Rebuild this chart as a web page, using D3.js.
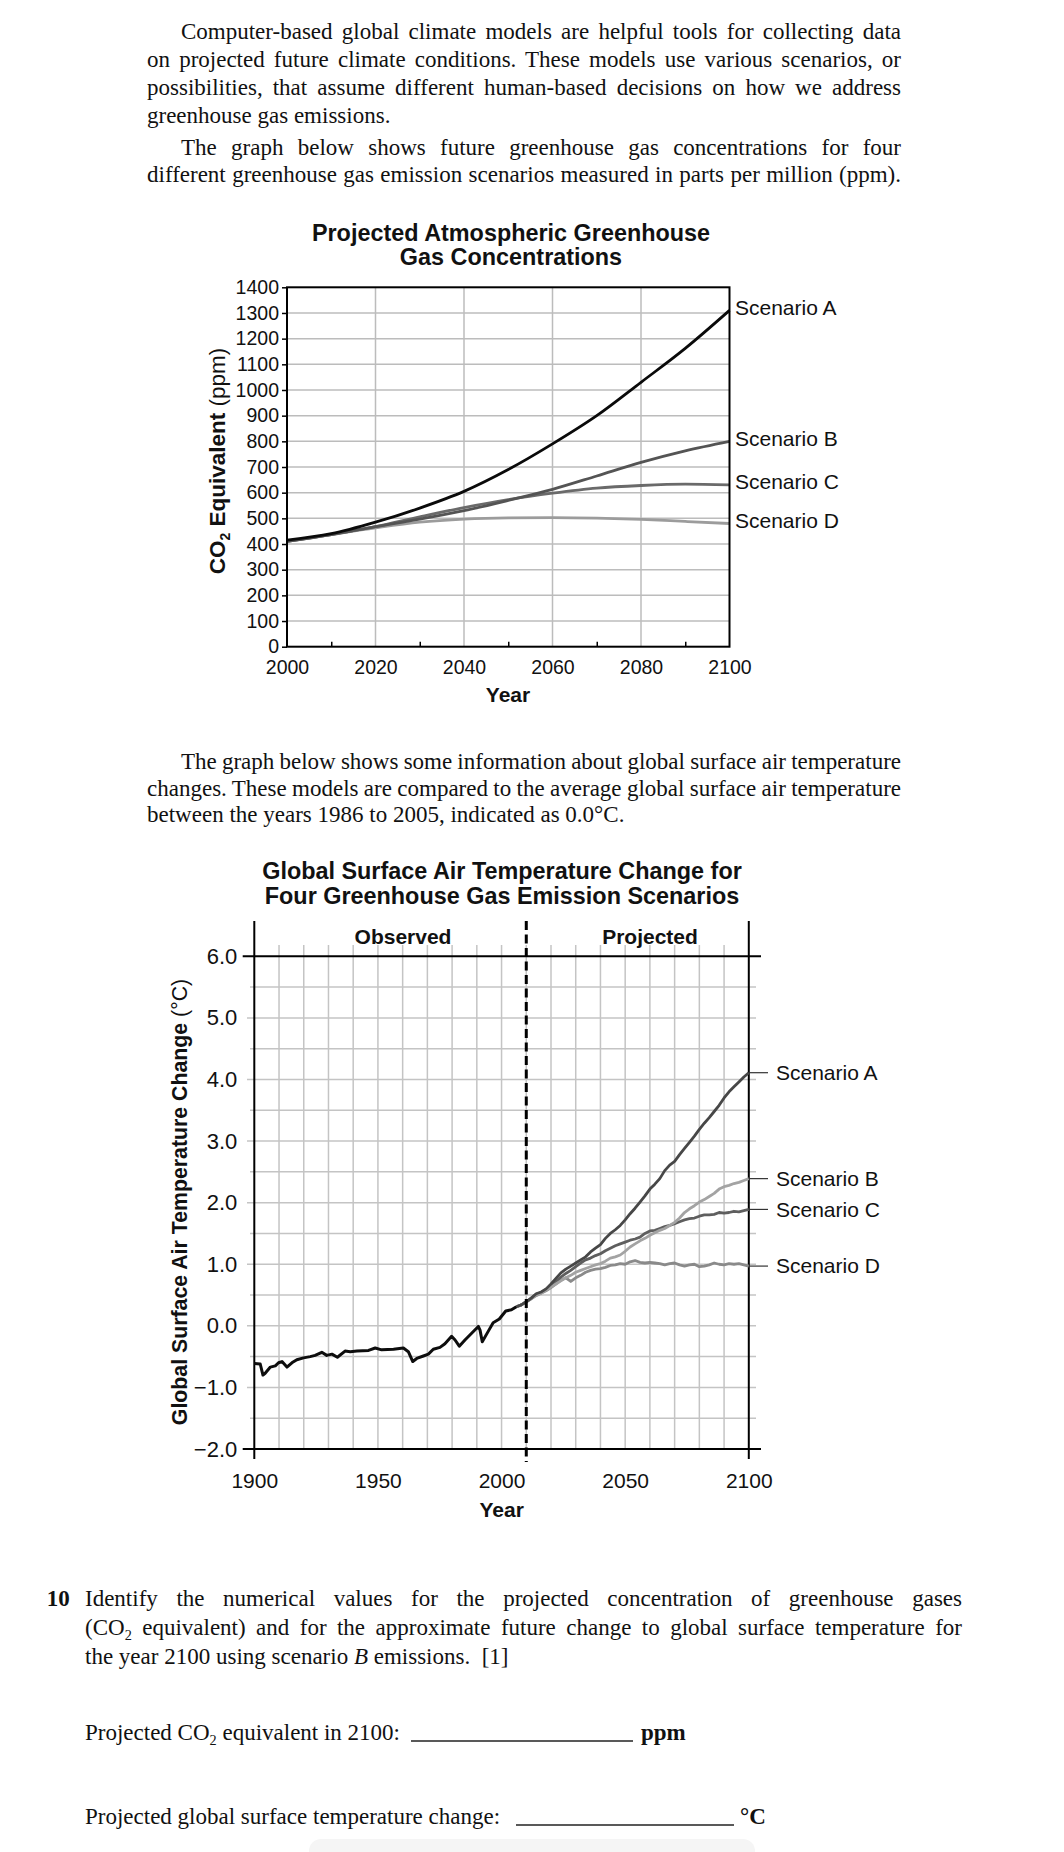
<!DOCTYPE html>
<html><head><meta charset="utf-8">
<script src="https://cdn.jsdelivr.net/npm/d3@7"></script>
<style>
html,body{margin:0;padding:0;background:#fff;}
svg{display:block;}
</style></head><body>
<svg id="page" width="1064" height="1852"></svg>
<script>
// ---------------- DATA ----------------
// Chart 1: projected CO2-equivalent concentration (ppm)
const co2Years = [2000,2010,2020,2030,2040,2050,2060,2070,2080,2090,2100];
const co2A = [415,440,485,540,605,690,790,900,1030,1162,1310];
const co2B = [410,437,468,497,530,570,613,665,718,763,800];
const co2C = [410,437,468,506,542,573,598,618,628,633,630];
const co2D = [410,437,463,485,497,502,503,501,496,488,480];
const co2Names = ["Scenario A","Scenario B","Scenario C","Scenario D"];
const co2YTicks = [0,100,200,300,400,500,600,700,800,900,1000,1100,1200,1300,1400];
const co2XTicks = [2000,2020,2040,2060,2080,2100];
const co2XMinor = [2010,2030,2050,2070,2090];

// Chart 2: global surface air temperature change (deg C)
const obsYears = [1900,1902.4,1903.5,1904.4,1906.5,1908.5,1909.8,1911.2,1913.2,1915.2,1917.2,1919.9,1922.6,1924.6,1927.3,1929.3,1931.4,1933.6,1936.7,1938.8,1941.5,1946.2,1948.9,1951.5,1956.3,1960.3,1962.3,1964.1,1965.7,1968.4,1970.4,1972.4,1975.1,1977.1,1979.8,1981.2,1982.9,1985.2,1987.9,1990.6,1991.3,1992.2,1994.6,1996.6,1999.1,2001.7,2004,2006];
const obsTemp = [-0.61,-0.62,-0.80,-0.77,-0.67,-0.65,-0.60,-0.58,-0.67,-0.60,-0.55,-0.52,-0.50,-0.48,-0.43,-0.48,-0.46,-0.51,-0.41,-0.42,-0.41,-0.40,-0.36,-0.39,-0.38,-0.36,-0.42,-0.58,-0.53,-0.49,-0.46,-0.38,-0.35,-0.29,-0.17,-0.23,-0.33,-0.23,-0.12,-0.01,-0.07,-0.26,-0.09,0.05,0.11,0.24,0.26,0.31];
const projYears = [2006,2008,2010,2012,2014,2016,2018,2020,2022,2024,2026,2028,2030,2032,2034,2036,2038,2040,2042,2044,2046,2048,2050,2052,2054,2056,2058,2060,2062,2064,2066,2068,2070,2072,2074,2076,2078,2080,2082,2084,2086,2088,2090,2092,2094,2096,2098,2100];
const tempA = [0.31,0.34,0.39,0.45,0.52,0.55,0.60,0.68,0.77,0.86,0.92,0.97,1.02,1.07,1.12,1.20,1.26,1.32,1.42,1.50,1.56,1.63,1.72,1.82,1.91,2.01,2.11,2.22,2.30,2.39,2.52,2.61,2.67,2.78,2.88,2.98,3.08,3.19,3.29,3.38,3.48,3.58,3.70,3.80,3.88,3.96,4.04,4.11];
const tempB = [0.31,0.34,0.39,0.44,0.50,0.53,0.58,0.63,0.68,0.73,0.78,0.82,0.87,0.90,0.93,0.96,0.99,1.01,1.05,1.10,1.12,1.15,1.21,1.28,1.33,1.38,1.42,1.47,1.51,1.55,1.58,1.63,1.68,1.75,1.84,1.90,1.95,2.01,2.05,2.10,2.15,2.22,2.26,2.28,2.31,2.33,2.36,2.39];
const tempC = [0.31,0.34,0.39,0.45,0.51,0.54,0.59,0.65,0.72,0.79,0.85,0.90,0.96,1.02,1.07,1.10,1.14,1.17,1.22,1.26,1.30,1.33,1.36,1.39,1.41,1.44,1.50,1.54,1.55,1.58,1.61,1.63,1.66,1.69,1.72,1.74,1.75,1.78,1.80,1.80,1.81,1.84,1.83,1.84,1.86,1.85,1.87,1.89];
const tempD = [0.31,0.34,0.39,0.44,0.49,0.53,0.57,0.62,0.68,0.74,0.78,0.72,0.78,0.82,0.87,0.90,0.92,0.93,0.95,0.98,0.99,1.01,1.00,1.04,1.06,1.03,1.02,1.03,1.02,1.01,0.99,1.01,1.02,0.99,0.97,0.99,1.00,0.96,0.97,0.99,1.02,1.00,0.99,1.01,1.00,1.01,0.99,0.97];
const tempNames = ["Scenario A","Scenario B","Scenario C","Scenario D"];
const tempYTicks = [-2,-1,0,1,2,3,4,5,6];
const tempXTicks = [1900,1950,2000,2050,2100];
const tempVGrid = [1910,1920,1930,1940,1950,1960,1970,1980,1990,2000,2010,2020,2030,2040,2050,2060,2070,2080,2090];
const tempHGrid = [-1.5,-1,-0.5,0,0.5,1,1.5,2,2.5,3,3.5,4,4.5,5,5.5];

// ---------------- HELPERS ----------------
const SERIF = '"Liberation Serif","Times New Roman",serif';
const SANS = '"Liberation Sans",Arial,Helvetica,sans-serif';
const INK = "#111";
const svg = d3.select("#page");

function richText(parent, x, y, segs, o) {
  const t = parent.append("text").attr("x", x).attr("y", y)
    .style("font-family", o.family).style("font-size", o.size + "px").attr("fill", INK);
  if (o.anchor) t.attr("text-anchor", o.anchor);
  if (o.transform) t.attr("transform", o.transform);
  if (o.weight) t.style("font-weight", o.weight);
  let shifted = false;
  segs.forEach(s => {
    const sp = t.append("tspan").text(s.t);
    if (s.bold) sp.style("font-weight", "bold");
    if (s.normal) sp.style("font-weight", "normal");
    if (s.italic) sp.style("font-style", "italic");
    if (s.sub) { sp.style("font-size", (o.size * 0.62) + "px").attr("dy", o.size * 0.22); shifted = true; }
    else if (shifted) { sp.attr("dy", -o.size * 0.22); shifted = false; }
  });
  if (o.justify) {
    const w = t.node().getComputedTextLength();
    const n = segs.map(s => s.t).join("").split(" ").length - 1;
    if (n > 0) t.style("word-spacing", ((o.justify - w) / n) + "px");
  }
  return t;
}

// ---------------- TEXT: intro ----------------
const L = 147, R = 901, IND = 181;
const intro = [
  {x: IND, y: 39, segs: [{t: "Computer-based global climate models are helpful tools for collecting data"}], j: true},
  {x: L, y: 67, segs: [{t: "on projected future climate conditions. These models use various scenarios, or"}], j: true},
  {x: L, y: 95, segs: [{t: "possibilities, that assume different human-based decisions on how we address"}], j: true},
  {x: L, y: 123, segs: [{t: "greenhouse gas emissions."}], j: false},
  {x: IND, y: 155, segs: [{t: "The graph below shows future greenhouse gas concentrations for four"}], j: true},
  {x: L, y: 181.5, segs: [{t: "different greenhouse gas emission scenarios measured in parts per million (ppm)."}], j: true},
  {x: IND, y: 768.5, segs: [{t: "The graph below shows some information about global surface air temperature"}], j: true},
  {x: L, y: 795.5, segs: [{t: "changes. These models are compared to the average global surface air temperature"}], j: true},
  {x: L, y: 822, segs: [{t: "between the years 1986 to 2005, indicated as 0.0°C."}], j: false}
];
intro.forEach(l => richText(svg, l.x, l.y, l.segs, {family: SERIF, size: 23, justify: l.j ? (R - l.x) : null}));

// ---------------- CHART 1 ----------------
const x1 = d3.scaleLinear().domain([2000, 2100]).range([287, 729.5]);
const y1 = d3.scaleLinear().domain([0, 1400]).range([646.7, 287.3]);
const g1 = svg.append("g");

g1.selectAll("line.vg").data(co2XTicks.filter(d => d > 2000 && d < 2100)).join("line").attr("class", "vg")
  .attr("x1", d => x1(d)).attr("x2", d => x1(d)).attr("y1", y1(0)).attr("y2", y1(1400))
  .attr("stroke", "#bcbcbc").attr("stroke-width", 1.5);
g1.selectAll("line.hg").data(co2YTicks.filter(d => d > 0 && d < 1400)).join("line").attr("class", "hg")
  .attr("x1", x1(2000)).attr("x2", x1(2100)).attr("y1", d => y1(d)).attr("y2", d => y1(d))
  .attr("stroke", "#bcbcbc").attr("stroke-width", 1.5);

const co2Series = [co2A, co2B, co2C, co2D];
const co2Colors = ["#0a0a0a", "#545454", "#6a6a6a", "#9c9c9c"];
const line1 = d3.line().x(d => x1(d[0])).y(d => y1(d[1])).curve(d3.curveMonotoneX);
[3, 2, 1, 0].forEach(i => {
  g1.append("path").datum(co2Years.map((yr, k) => [yr, co2Series[i][k]]))
    .attr("d", line1).attr("fill", "none").attr("stroke", co2Colors[i]).attr("stroke-width", 2.8)
    .attr("stroke-linejoin", "round");
});

g1.append("rect").attr("x", x1(2000)).attr("y", y1(1400))
  .attr("width", x1(2100) - x1(2000)).attr("height", y1(0) - y1(1400))
  .attr("fill", "none").attr("stroke", "#000").attr("stroke-width", 2);

function styleAxis(g, size) {
  g.select(".domain").remove();
  g.selectAll("text").style("font-family", SANS).style("font-size", size + "px").attr("fill", INK);
  g.selectAll("line").attr("stroke", "#000").attr("stroke-width", 1.5);
}
g1.append("g").attr("transform", `translate(${x1(2000)},0)`)
  .call(d3.axisLeft(y1).tickValues(co2YTicks).tickSize(5).tickPadding(3).tickFormat(d3.format("d")))
  .call(g => styleAxis(g, 19.5));
g1.append("g").attr("transform", `translate(0,${y1(0)})`)
  .call(d3.axisBottom(x1).tickValues(co2XTicks).tickSize(0).tickPadding(13).tickFormat(d3.format("d")))
  .call(g => styleAxis(g, 19.5));
g1.append("g").attr("transform", `translate(0,${y1(0)})`)
  .call(d3.axisBottom(x1).tickValues(co2XMinor).tickSize(-5).tickFormat(""))
  .call(g => styleAxis(g, 19.5));

co2Names.forEach((n, i) => {
  g1.append("text").attr("x", 735).attr("y", y1(co2Series[i][co2Series[i].length - 1]) - 3).attr("dy", "0.35em")
    .style("font-family", SANS).style("font-size", "21px").attr("fill", INK).text(n);
});

richText(g1, 511, 240.7, [{t: "Projected Atmospheric Greenhouse"}], {family: SANS, size: 23.4, anchor: "middle", weight: "bold"});
richText(g1, 511, 264.5, [{t: "Gas Concentrations"}], {family: SANS, size: 23.4, anchor: "middle", weight: "bold"});
richText(g1, 0, 0, [{t: "CO", bold: true}, {t: "2", bold: true, sub: true}, {t: " Equivalent", bold: true}, {t: " (ppm)", normal: true}],
  {family: SANS, size: 22.5, anchor: "middle", transform: "translate(225,461) rotate(-90)"});
richText(g1, 508, 702, [{t: "Year"}], {family: SANS, size: 21, anchor: "middle", weight: "bold"});

// ---------------- CHART 2 ----------------
const x2 = d3.scaleLinear().domain([1900, 2100]).range([254.3, 748.8]);
const y2 = d3.scaleLinear().domain([-2, 6]).range([1449, 956.3]);
const g2 = svg.append("g");

g2.selectAll("line.vg").data(tempVGrid).join("line").attr("class", "vg")
  .attr("x1", d => x2(d)).attr("x2", d => x2(d)).attr("y1", 945).attr("y2", y2(-2))
  .attr("stroke", "#c4c4c4").attr("stroke-width", 1.5);
g2.selectAll("line.hg").data(tempHGrid).join("line").attr("class", "hg")
  .attr("x1", d => Number.isInteger(d) ? 247 : 250).attr("x2", 756).attr("y1", d => y2(d)).attr("y2", d => y2(d))
  .attr("stroke", "#c4c4c4").attr("stroke-width", 1.5);

// frame
[6, -2].forEach(v => g2.append("line").attr("x1", 242.7).attr("x2", 761).attr("y1", y2(v)).attr("y2", y2(v))
  .attr("stroke", "#000").attr("stroke-width", 2));
[1900, 2100].forEach(v => g2.append("line").attr("x1", x2(v)).attr("x2", x2(v)).attr("y1", 921).attr("y2", 1459)
  .attr("stroke", "#000").attr("stroke-width", 2));

const line2 = d3.line().x(d => x2(d[0])).y(d => y2(d[1]));
const tempSeries = [tempA, tempB, tempC, tempD];
const tempColors = ["#474747", "#a3a3a3", "#5e5e5e", "#8a8a8a"];
[3, 2, 1, 0].forEach(i => {
  g2.append("path").datum(projYears.map((yr, k) => [yr, tempSeries[i][k]]))
    .attr("d", line2).attr("fill", "none").attr("stroke", tempColors[i]).attr("stroke-width", 2.8)
    .attr("stroke-linejoin", "round");
});
g2.append("path").datum(obsYears.map((yr, k) => [yr, obsTemp[k]]))
  .attr("d", line2).attr("fill", "none").attr("stroke", "#0d0d0d").attr("stroke-width", 3)
  .attr("stroke-linejoin", "round");

// dashed divider at 2010
g2.append("line").attr("x1", x2(2010)).attr("x2", x2(2010)).attr("y1", 921).attr("y2", 1462)
  .attr("stroke", "#000").attr("stroke-width", 3).attr("stroke-dasharray", "9,4.5");

const fmtT = d => (d < 0 ? "\u2212" : "") + Math.abs(d).toFixed(1);
g2.append("g").attr("transform", `translate(${x2(1900)},0)`)
  .call(d3.axisLeft(y2).tickValues(tempYTicks).tickSize(0).tickPadding(17).tickFormat(fmtT))
  .call(g => styleAxis(g, 22));
g2.append("g").attr("transform", `translate(0,${y2(-2)})`)
  .call(d3.axisBottom(x2).tickValues(tempXTicks).tickSize(0).tickPadding(24).tickFormat(d3.format("d")))
  .call(g => styleAxis(g, 21));

tempNames.forEach((n, i) => {
  const yv = y2(tempSeries[i][tempSeries[i].length - 1]);
  g2.append("line").attr("x1", x2(2100)).attr("x2", 768).attr("y1", yv).attr("y2", yv)
    .attr("stroke", "#333").attr("stroke-width", 1.2);
  g2.append("text").attr("x", 776).attr("y", yv).attr("dy", "0.35em")
    .style("font-family", SANS).style("font-size", "21px").attr("fill", INK).text(n);
});

richText(g2, 502, 879, [{t: "Global Surface Air Temperature Change for"}], {family: SANS, size: 23.4, anchor: "middle", weight: "bold"});
richText(g2, 502, 904, [{t: "Four Greenhouse Gas Emission Scenarios"}], {family: SANS, size: 23.4, anchor: "middle", weight: "bold"});
richText(g2, 403, 944, [{t: "Observed"}], {family: SANS, size: 21, anchor: "middle", weight: "bold"});
richText(g2, 650, 944, [{t: "Projected"}], {family: SANS, size: 21, anchor: "middle", weight: "bold"});
richText(g2, 0, 0, [{t: "Global Surface Air Temperature Change", bold: true}, {t: " (°C)", normal: true}],
  {family: SANS, size: 21.3, anchor: "middle", transform: "translate(187,1202) rotate(-90)"});
richText(g2, 501.7, 1517, [{t: "Year"}], {family: SANS, size: 21, anchor: "middle", weight: "bold"});

// ---------------- QUESTION ----------------
const QL = 85, QR = 962;
richText(svg, 46.7, 1606, [{t: "10"}], {family: SERIF, size: 23, weight: "bold"});
richText(svg, QL, 1606, [{t: "Identify the numerical values for the projected concentration of greenhouse gases"}], {family: SERIF, size: 23, justify: QR - QL});
richText(svg, QL, 1635, [{t: "(CO"}, {t: "2", sub: true}, {t: " equivalent) and for the approximate future change to global surface temperature for"}], {family: SERIF, size: 23, justify: QR - QL});
richText(svg, QL, 1664, [{t: "the year 2100 using scenario "}, {t: "B", italic: true}, {t: " emissions.\u00a0\u00a0[1]"}], {family: SERIF, size: 23});

richText(svg, QL, 1740, [{t: "Projected CO"}, {t: "2", sub: true}, {t: " equivalent in 2100:"}], {family: SERIF, size: 23});
svg.append("line").attr("x1", 411).attr("x2", 633).attr("y1", 1741).attr("y2", 1741).attr("stroke", "#222").attr("stroke-width", 1.3);
richText(svg, 641, 1740, [{t: "ppm"}], {family: SERIF, size: 23, weight: "bold"});

richText(svg, QL, 1824, [{t: "Projected global surface temperature change:"}], {family: SERIF, size: 23});
svg.append("line").attr("x1", 516).attr("x2", 734).attr("y1", 1825).attr("y2", 1825).attr("stroke", "#222").attr("stroke-width", 1.3);
richText(svg, 740, 1824, [{t: "°C"}], {family: SERIF, size: 23, weight: "bold"});

svg.append("rect").attr("x", 309).attr("y", 1839).attr("width", 446).attr("height", 30).attr("rx", 12)
  .attr("fill", "#f5f5f5");
</script>
</body></html>
